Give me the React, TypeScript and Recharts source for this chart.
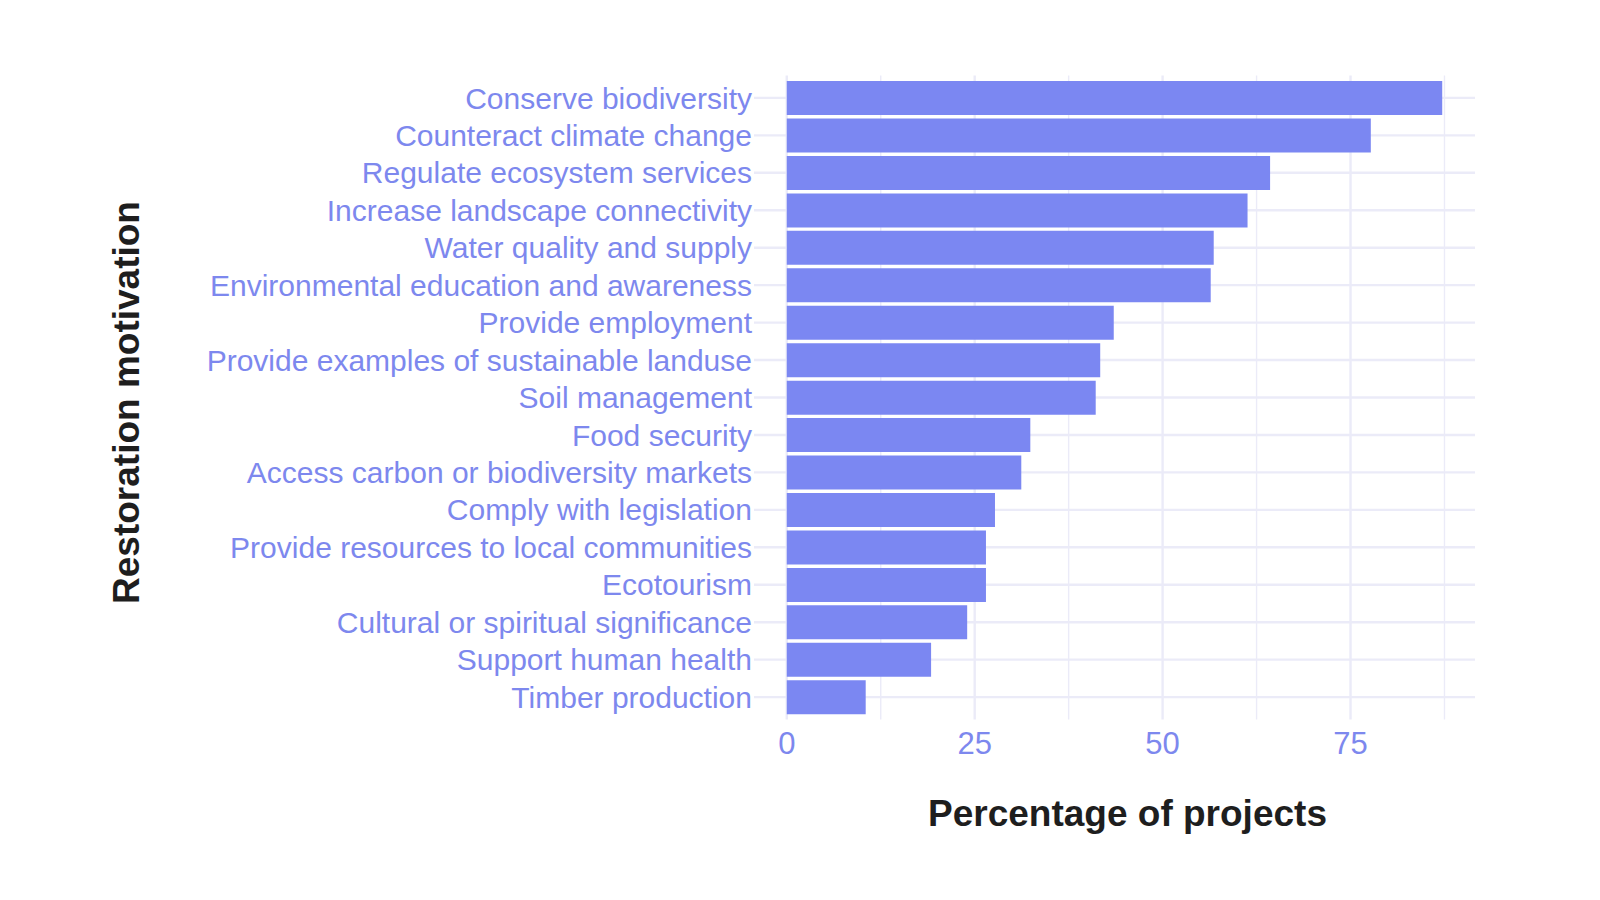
import React from 'react';
import { BarChart, Bar, XAxis, YAxis, CartesianGrid, Label } from 'recharts';

const motivations = [
  'Conserve biodiversity',
  'Counteract climate change',
  'Regulate ecosystem services',
  'Increase landscape connectivity',
  'Water quality and supply',
  'Environmental education and awareness',
  'Provide employment',
  'Provide examples of sustainable landuse',
  'Soil management',
  'Food security',
  'Access carbon or biodiversity markets',
  'Comply with legislation',
  'Provide resources to local communities',
  'Ecotourism',
  'Cultural or spiritual significance',
  'Support human health',
  'Timber production',
];

const percentages = [87.2, 77.7, 64.3, 61.3, 56.8, 56.4, 43.5, 41.7, 41.1, 32.4, 31.2, 27.7, 26.5, 26.5, 24.0, 19.2, 10.5];

const majorTicks = [0, 25, 50, 75];
const minorTicks = [12.5, 37.5, 62.5, 87.5];

const BAR_COLOR = '#7b87f2';
const TEXT_COLOR = '#7d88ee';
const TITLE_COLOR = '#1e1e1e';
const GRID_COLOR = '#ebebf8';
const FONT = '"Liberation Sans", Arial, Helvetica, sans-serif';

const data = motivations.map((m, i) => ({ motivation: m, pct: percentages[i] }));

// ggplot-style 5% expansion either side of the data range
const maxPct = Math.max(...percentages);
const xDomain = [-maxPct * 0.05, maxPct * 1.05];
const Y_PAD = 3.7;

// x values -> pixels, linear over the plot area offset
const xPixels = (values: number[]) => ({ offset }: any) =>
  values.map((v) => offset.left + ((v - xDomain[0]) / (xDomain[1] - xDomain[0])) * offset.width);

// centre of every category band
const yCentres = ({ offset }: any) => {
  const band = (offset.height - 2 * Y_PAD) / motivations.length;
  return motivations.map((_, i) => offset.top + Y_PAD + band * (i + 0.5));
};

function XTitle({ viewBox }: any) {
  const cx = viewBox.x + viewBox.width / 2 + 13;
  return (
    <text x={cx} y={826} textAnchor="middle" fontFamily={FONT} fontSize={37} fontWeight="bold" fill={TITLE_COLOR}>
      Percentage of projects
    </text>
  );
}

function YTitle({ viewBox }: any) {
  const cy = viewBox.y + viewBox.height / 2 + 5;
  const bx = 139;
  return (
    <text
      x={bx}
      y={cy}
      transform={`rotate(-90 ${bx} ${cy})`}
      textAnchor="middle"
      fontFamily={FONT}
      fontSize={37}
      fontWeight="bold"
      fill={TITLE_COLOR}
    >
      Restoration motivation
    </text>
  );
}

export default function App() {
  return (
    <div style={{ position: 'fixed', left: 0, top: 0, width: 1600, height: 900, background: '#fff' }}>
      <BarChart
        width={1600}
        height={900}
        data={data}
        layout="vertical"
        margin={{ top: 75.5, right: 125, bottom: 0, left: 0 }}
        barCategoryGap="5%"
      >
        {/* minor vertical */}
        <CartesianGrid
          stroke={GRID_COLOR}
          strokeWidth={1.4}
          horizontal={false}
          verticalCoordinatesGenerator={xPixels(minorTicks)}
        />
        {/* major vertical + horizontal */}
        <CartesianGrid
          stroke={GRID_COLOR}
          strokeWidth={2.4}
          verticalCoordinatesGenerator={xPixels(majorTicks)}
          horizontalCoordinatesGenerator={yCentres}
        />
        <XAxis
          type="number"
          domain={xDomain}
          ticks={majorTicks}
          allowDataOverflow
          axisLine={false}
          tickLine={false}
          tickSize={0}
          tickMargin={12.5}
          height={180.5}
          tick={{ fill: TEXT_COLOR, fontSize: 31, fontFamily: FONT }}
        >
          <Label content={<XTitle />} />
        </XAxis>
        <YAxis
          type="category"
          dataKey="motivation"
          width={754}
          interval={0}
          axisLine={false}
          tickLine={false}
          tickSize={0}
          tickMargin={2}
          padding={{ top: Y_PAD, bottom: Y_PAD }}
          tick={{ fill: TEXT_COLOR, fontSize: 30, fontFamily: FONT }}
        >
          <Label content={<YTitle />} />
        </YAxis>
        <Bar dataKey="pct" fill={BAR_COLOR} isAnimationActive={false} />
      </BarChart>
    </div>
  );
}
